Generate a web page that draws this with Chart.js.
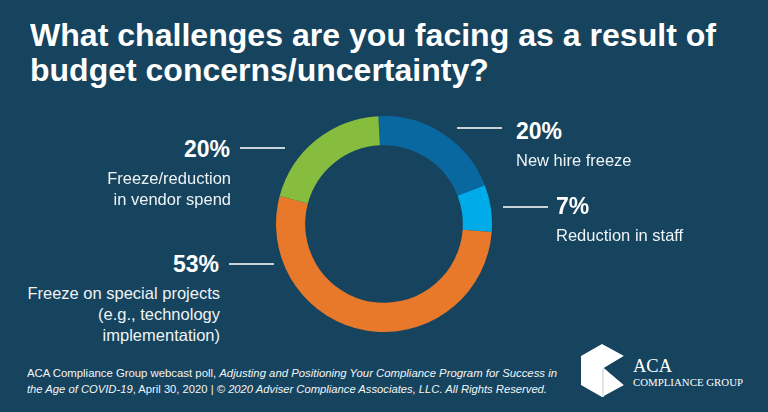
<!DOCTYPE html>
<html>
<head>
<meta charset="utf-8">
<script src="https://cdn.jsdelivr.net/npm/chart.js@4.4.0/dist/chart.umd.min.js"></script>
<style>
    html, body {
        margin: 0;
        padding: 0;
    }
    body {
        width: 768px;
        height: 412px;
        overflow: hidden;
        position: relative;
        background: #16435d;
        font-family: "Liberation Sans", Arial, sans-serif;
        color: #fff;
    }
    .txt {
        position: absolute;
        white-space: nowrap;
    }
    .title {
        font-weight: bold;
        font-size: 32px;
    }
    .pct {
        font-weight: bold;
        font-size: 23px;
    }
    .desc {
        font-size: 16.5px;
        color: #eef3f6;
    }
    .foot {
        font-size: 11px;
        color: #f2f5f7;
    }
    .rule {
        position: absolute;
        height: 1.5px;
        background: #c8d2d9;
    }
    #donut {
        position: absolute;
        left: 276px;
        top: 116px;
        width: 216px;
        height: 216px;
    }
    .logo-aca {
        font-family: "Liberation Serif", "DejaVu Serif", serif;
        font-size: 18px;
    }
    .logo-grp {
        font-family: "Liberation Serif", "DejaVu Serif", serif;
        font-size: 10px;
    }
</style>
</head>
<body>
<div id="donut"><canvas id="pollChart"></canvas></div>
<svg style="position:absolute;left:580px;top:344px" width="46" height="54" viewBox="0 0 46 54">
    <polygon points="22,0 44,12 24,24 44,41 22,53 1,41 1,12" fill="#ffffff"/>
    <polygon points="24,24 44,12 44,41" fill="#16435d"/>
    <polygon points="24,24 24,53 22,53 22,25" fill="#dfe6eb"/>
</svg>
<script>
// Poll answers
const categories = ['New hire freeze', 'Reduction in staff', 'Freeze on special projects (e.g., technology implementation)', 'Freeze/reduction in vendor spend'];
const labelLines = [
    ['New hire freeze'],
    ['Reduction in staff'],
    ['Freeze on special projects', '(e.g., technology', 'implementation)'],
    ['Freeze/reduction', 'in vendor spend']
];
const values = [20, 7, 53, 20];
const colors = ['#0a68a0', '#00abe9', '#e8792a', '#87bd3f'];

const titleLines = ['What challenges are you facing as a result of', 'budget concerns/uncertainty?'];
const footLines = [
    'ACA Compliance Group webcast poll, <i>Adjusting and Positioning Your Compliance Program for Success in</i>',
    '<i>the Age of COVID-19</i>, April 30, 2020 | <i>\u00a9 2020 Adviser Compliance Associates, LLC. All Rights Reserved.</i>'
];

// baseline helper for Liberation Sans (ascent .905, descent .212)
function addText(html, cls, size, lineH, x, baseline, align, fitWidth) {
    const el = document.createElement('div');
    el.className = 'txt ' + cls;
    el.innerHTML = html;
    el.style.lineHeight = lineH + 'px';
    el.style.textAlign = align;
    const top = baseline - ((lineH - 1.117 * size) / 2 + 0.905 * size);
    el.style.top = top + 'px';
    if (align === 'right') {
        el.style.right = (768 - x) + 'px';
        el.style.transformOrigin = 'right top';
    } else {
        el.style.left = x + 'px';
        el.style.transformOrigin = 'left top';
    }
    document.body.appendChild(el);
    if (fitWidth) {
        const w = el.getBoundingClientRect().width;
        el.style.transform = 'scaleX(' + (fitWidth / w) + ')';
    }
    return el;
}

function addRule(x1, x2, y) {
    const r = document.createElement('div');
    r.className = 'rule';
    r.style.left = x1 + 'px';
    r.style.width = (x2 - x1) + 'px';
    r.style.top = (y - 0.75) + 'px';
    document.body.appendChild(r);
}

// Title
addText(titleLines[0], 'title', 32, 35, 30, 47, 'left', 686);
addText(titleLines[1], 'title', 32, 35, 30, 82, 'left');

// Callouts, one per slice
const callouts = [
    { align: 'left', x: 516, base: 139, rule: [457, 502, 128] },
    { align: 'left', x: 556, base: 214, rule: [503, 548, 207] },
    { align: 'right', x: 220, base: 272, rule: [229, 274, 264] },
    { align: 'right', x: 231, base: 157, rule: [240, 285, 148] }
];
callouts.forEach((c, i) => {
    addText(values[i] + '%', 'pct', 23, 26, c.align === 'right' ? c.x - 1 : c.x, c.base, c.align);
    addText(labelLines[i].join('<br>'), 'desc', 16.5, 21, c.x, c.base + 27.5, c.align);
    addRule(c.rule[0], c.rule[1], c.rule[2]);
});

// Footer
addText(footLines[0], 'foot', 11, 16, 27, 377, 'left', 530);
addText(footLines[1], 'foot', 11, 16, 27, 393, 'left', 520);

// Logo wording
addText('ACA', 'logo-aca', 18, 14, 633, 372, 'left', 39);
addText('COMPLIANCE GROUP', 'logo-grp', 10, 10, 633, 386, 'left', 110);

// Donut
const ctx = document.getElementById('pollChart').getContext('2d');
new Chart(ctx, {
    type: 'doughnut',
    data: {
        labels: categories,
        datasets: [{
            data: values,
            backgroundColor: colors,
            borderWidth: 0
        }]
    },
    options: {
        responsive: true,
        maintainAspectRatio: false,
        animation: false,
        cutout: '73%',
        rotation: -3,
        layout: { padding: 0 },
        plugins: {
            legend: { display: false },
            tooltip: { enabled: false }
        }
    }
});
</script>
</body>
</html>
